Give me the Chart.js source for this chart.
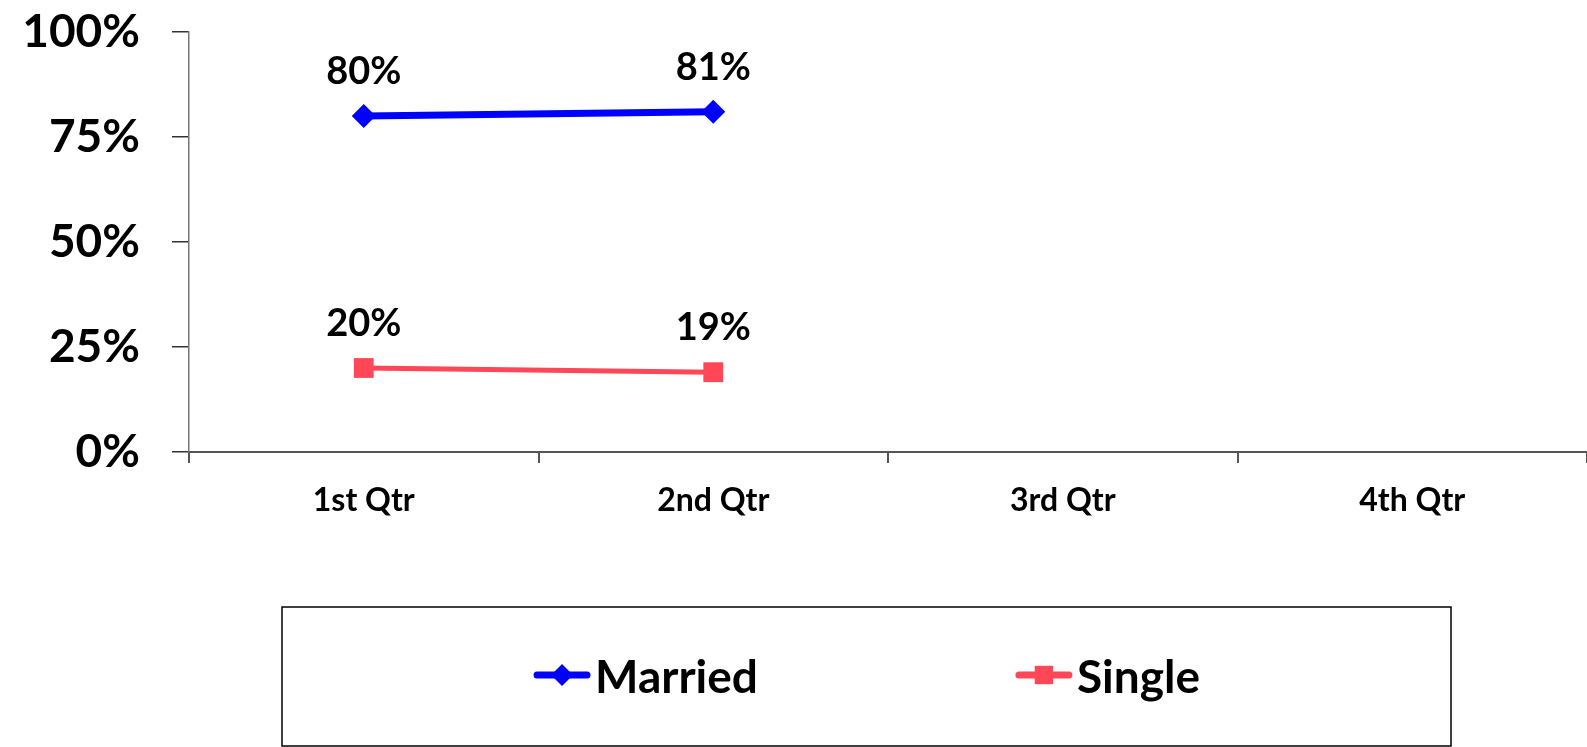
<!DOCTYPE html>
<html>
<head>
<meta charset="utf-8">
<script src="https://cdn.jsdelivr.net/npm/chart.js@4.4.0/dist/chart.umd.min.js"></script>
<style>
  html, body { margin: 0; padding: 0; background: #fff; overflow: hidden; }
  #wrap { position: relative; width: 1587px; height: 747px; }
  #wrap canvas { display: block; }
</style>
</head>
<body>
<div id="wrap"><canvas id="qtrChart"></canvas></div>
<script>
// data
const quarters = ["1st Qtr", "2nd Qtr", "3rd Qtr", "4th Qtr"];
const married = [80, 81, null, null];
const single = [20, 19, null, null];
const yTicks = [0, 25, 50, 75, 100];

const FONT = "Lato";

// value labels above each point
const pointLabels = {
  id: "pointLabels",
  afterDatasetsDraw(chart) {
    const ctx = chart.ctx;
    ctx.save();
    ctx.font = "bold 38px " + FONT;
    ctx.fillStyle = "#000";
    ctx.textAlign = "center";
    ctx.textBaseline = "middle";
    chart.data.datasets.forEach((ds, i) => {
      chart.getDatasetMeta(i).data.forEach((pt, j) => {
        const v = ds.data[j];
        if (v == null) return;
        ctx.fillText(v + "%", pt.x, pt.y - 44);
      });
    });
    ctx.restore();
  }
};

// boxed legend with line + marker samples
const boxLegend = {
  id: "boxLegend",
  afterDraw(chart) {
    const ctx = chart.ctx;
    const box = { x: 282, y: 607, w: 1169, h: 139 };
    const sampleW = 58, textGap = 4, itemGap = 257;
    ctx.save();
    ctx.strokeStyle = "#000";
    ctx.lineWidth = 1.5;
    ctx.strokeRect(box.x, box.y, box.w, box.h);

    ctx.font = "bold 46px " + FONT;
    ctx.textBaseline = "middle";
    const items = chart.data.datasets.map(ds => ({
      ds, w: sampleW + textGap + ctx.measureText(ds.label).width
    }));
    const total = items.reduce((s, it) => s + it.w, 0) + itemGap * (items.length - 1);
    let x = box.x + (box.w - total) / 2;
    const cy = box.y + 68;
    items.forEach(it => {
      const ds = it.ds;
      ctx.strokeStyle = ds.borderColor;
      ctx.lineWidth = 7;
      ctx.lineCap = "round";
      ctx.beginPath();
      ctx.moveTo(x + 4, cy);
      ctx.lineTo(x + sampleW - 4, cy);
      ctx.stroke();
      ctx.fillStyle = ds.pointBackgroundColor;
      Chart.helpers.drawPoint(ctx, {
        pointStyle: ds.pointStyle, radius: ds.pointRadius - 1, rotation: 0, borderWidth: 0
      }, x + sampleW / 2, cy);
      ctx.fillStyle = "#000";
      ctx.textAlign = "left";
      ctx.fillText(ds.label, x + sampleW + textGap, cy + 3);
      x += it.w + itemGap;
    });
    ctx.restore();
  }
};

new Chart(document.getElementById("qtrChart"), {
  type: "line",
  data: {
    labels: quarters,
    datasets: [
      {
        label: "Married",
        data: married,
        borderColor: "#0000FF",
        backgroundColor: "#0000FF",
        borderWidth: 7,
        pointStyle: "rectRot",
        pointRadius: 12,
        pointBackgroundColor: "#0000FF",
        pointBorderColor: "#0000FF",
        pointBorderWidth: 0,
        tension: 0
      },
      {
        label: "Single",
        data: single,
        borderColor: "#FF4757",
        backgroundColor: "#FF4757",
        borderWidth: 5,
        pointStyle: "rect",
        pointRadius: 14,
        pointBackgroundColor: "#FF4757",
        pointBorderColor: "#FF4757",
        pointBorderWidth: 0,
        tension: 0
      }
    ]
  },
  options: {
    responsive: true,
    maintainAspectRatio: false,
    animation: false,
    layout: { autoPadding: false, padding: { top: 32, bottom: 215, left: 0, right: 0 } },
    plugins: {
      legend: { display: false },
      tooltip: { enabled: false }
    },
    scales: {
      x: {
        offset: true,
        grid: { offset: true, drawOnChartArea: false, tickLength: 11, color: "#555", lineWidth: 2 },
        border: { color: "#555", width: 2 },
        ticks: { color: "#000", font: { family: FONT, weight: "bold", size: 32 }, padding: 18, maxRotation: 0 },
        afterFit(scale) {
          scale.height = 80;
          scale.paddingLeft = 0;
          scale.paddingRight = 0;
        }
      },
      y: {
        min: 0,
        max: 100,
        afterBuildTicks(scale) { scale.ticks = yTicks.map(v => ({ value: v })); },
        grid: { drawOnChartArea: false, tickLength: 17, color: "#333", lineWidth: 1.5 },
        border: { color: "#777", width: 1.5 },
        ticks: {
          color: "#000",
          font: { family: FONT, weight: "bold", size: 46 },
          padding: 32,
          callback: v => v + "%"
        },
        afterFit(scale) {
          scale.width = 189;
          scale.paddingTop = 0;
          scale.paddingBottom = 0;
        }
      }
    }
  },
  plugins: [pointLabels, boxLegend]
});
</script>
</body>
</html>
